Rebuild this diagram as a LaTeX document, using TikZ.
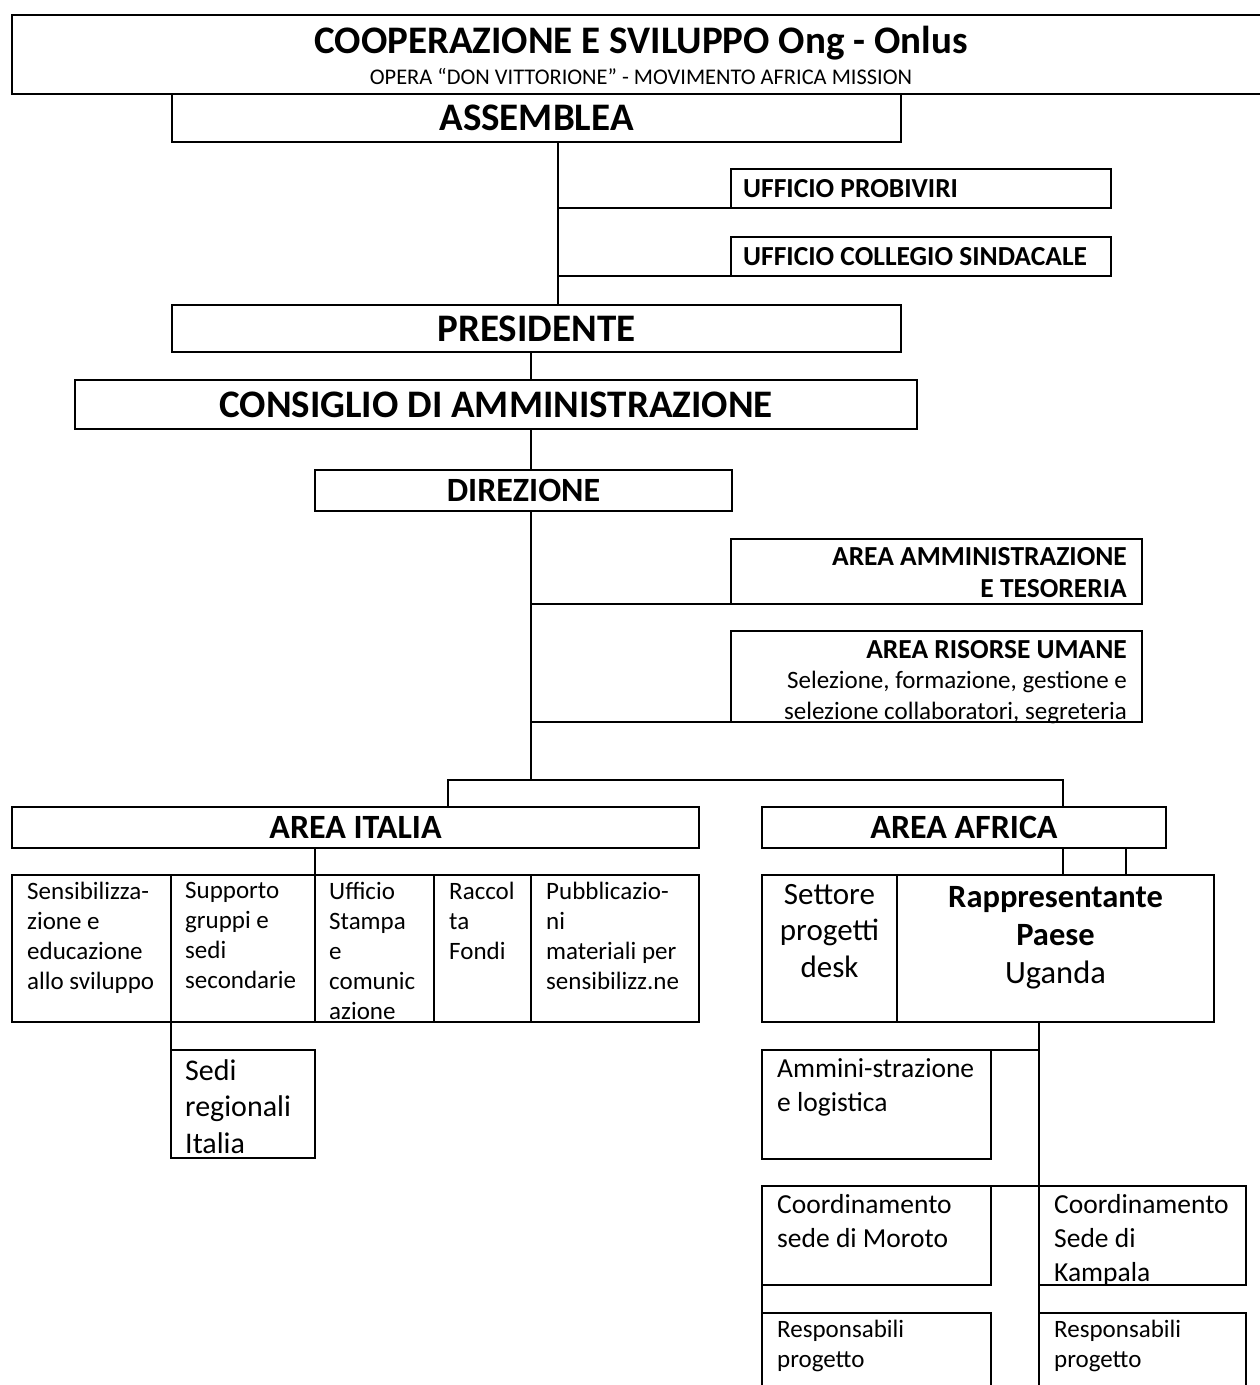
\documentclass[tikz,border=0pt]{standalone}
\usepackage{fontspec}
\setmainfont{Carlito}
\usetikzlibrary{positioning}

\newcommand{\headA}{\fontsize{39}{46}\selectfont\bfseries}
\newcommand{\subfont}{\fontsize{22.4}{26}\selectfont}
\newcommand{\headB}{\fontsize{34}{40}\selectfont\bfseries}
\newcommand{\headC}{\fontsize{27.5}{32}\selectfont\bfseries}
\newcommand{\headD}{\fontsize{27.5}{30.5}\selectfont\bfseries}
\newcommand{\bodyC}{\fontsize{25}{30.5}\selectfont\mdseries}
\newcommand{\cellfont}{\fontsize{25}{30}\selectfont}
\newcommand{\sedifont}{\fontsize{30}{36.5}\selectfont}
\newcommand{\setfont}{\fontsize{31}{36.5}\selectfont}
\newcommand{\rapfont}{\fontsize{32.5}{38}\selectfont}
\newcommand{\midfont}{\fontsize{27.5}{34}\selectfont}

\tikzstyle{box} = [rectangle, draw=black, line width=2.2pt, outer sep=0pt, inner sep=0pt, anchor=north west]
\tikzstyle{boxtext} = [anchor=north west, inner sep=0pt, align=left]
\tikzstyle{boxright} = [anchor=north east, inner sep=0pt, align=right]
\tikzstyle{link} = [line width=2.2pt]

\begin{document}
\begin{tikzpicture}[x=1pt, y=-1pt, node distance=0pt]
\useasboundingbox (0,0) rectangle (1260,1385);
\clip (0,0) rectangle (1260,1385);

% testata
\node (title) [box, minimum width=1258pt, minimum height=79pt] at (12,15) {};
\node (titleA) [anchor=base, inner sep=0pt, font=\headA] at (641,53) {COOPERAZIONE E SVILUPPO Ong - Onlus};
\node (titleB) [anchor=base, inner sep=0pt, font=\subfont] at (641,84) {OPERA “DON VITTORIONE” - MOVIMENTO AFRICA MISSION};

\node (assemblea) [box, minimum width=729pt, minimum height=48pt, font=\headA] at (172,94) {ASSEMBLEA};
\node (probiviri) [box, minimum width=380pt, minimum height=39pt] at (731,169) {};
\node (collegio) [box, minimum width=380pt, minimum height=39pt] at (731,237) {};
\node (probiviriT) [anchor=west, inner sep=0pt, font=\headC] at ([shift={(12,0)}]probiviri.west) {UFFICIO PROBIVIRI};
\node (collegioT) [anchor=west, inner sep=0pt, font=\headC] at ([shift={(12,0)}]collegio.west) {UFFICIO COLLEGIO SINDACALE};
\node (presidente) [box, minimum width=729pt, minimum height=47pt, font=\headA] at (172,305) {PRESIDENTE};
\node (consiglio) [box, minimum width=842pt, minimum height=49pt, font=\headA] at (75,380) {CONSIGLIO DI AMMINISTRAZIONE};
\node (direzione) [box, minimum width=417pt, minimum height=41pt, font=\headB] at (315,470) {DIREZIONE};
\node (amm) [box, minimum width=411pt, minimum height=65pt] at (731,539) {};
\node (risorse) [box, minimum width=411pt, minimum height=91pt] at (731,631) {};
\node (ammT) [boxright, font=\headC] at ([shift={(-15,8)}]amm.north east) {AREA AMMINISTRAZIONE\\E TESORERIA};
\node (risorseT) [boxright, font=\headD] at ([shift={(-15,9)}]risorse.north east) {AREA RISORSE UMANE\\{\bodyC Selezione, formazione, gestione e}\\{\bodyC selezione collaboratori, segreteria}};

\coordinate (spineA) at (558,142);
\draw [link] (spineA) -- (spineA |- presidente.north);
\draw [link] (spineA |- probiviri.south) -- (probiviri.south west);
\draw [link] (spineA |- collegio.south) -- (collegio.south west);

\coordinate (spineB) at (531,352);
\coordinate (split) at (531,780);
\draw [link] (spineB) -- (spineB |- consiglio.north);
\draw [link] (spineB |- consiglio.south) -- (spineB |- direzione.north);
\draw [link] (spineB |- direzione.south) -- (split);
\draw [link] (spineB |- amm.south) -- (amm.south west);
\draw [link] (spineB |- risorse.south) -- (risorse.south west);

% area italia
\node (italia) [box, minimum width=687pt, minimum height=41pt, font=\headB] at (12,807) {AREA ITALIA};
\node (sens) [box, minimum width=159pt, minimum height=147pt] at (12,875) {};
\node (supp) [box, minimum width=144pt, minimum height=147pt, right=of sens] {};
\node (stampa) [box, minimum width=119pt, minimum height=147pt, right=of supp] {};
\node (fondi) [box, minimum width=97pt, minimum height=147pt, right=of stampa] {};
\node (pubbl) [box, minimum width=168pt, minimum height=147pt, right=of fondi] {};
\node (sedi) [box, minimum width=144pt, minimum height=108pt] at (171,1050) {};

\node (sensT) [boxtext, font=\cellfont] at ([shift={(15,7)}]sens.north west) {Sensibilizza-\\zione e\\educazione\\allo sviluppo};
\node (suppT) [boxtext, font=\cellfont] at ([shift={(14,7)}]supp.north west) {Supporto\\gruppi e\\sedi\\secondarie};
\node (stampaT) [boxtext, font=\cellfont] at ([shift={(14,7)}]stampa.north west) {Ufficio\\Stampa\\e\\comunic\\azione};
\node (fondiT) [boxtext, font=\cellfont] at ([shift={(15,7)}]fondi.north west) {Raccol\\ta\\Fondi};
\node (pubblT) [boxtext, font=\cellfont] at ([shift={(15,7)}]pubbl.north west) {Pubblicazio-\\ni\\materiali per\\sensibilizz.ne};
\node (sediT) [boxtext, font=\sedifont] at ([shift={(14,9)}]sedi.north west) {Sedi\\regionali\\Italia};

% area africa
\node (africa) [box, minimum width=404pt, minimum height=41pt, font=\headB] at (762,807) {AREA AFRICA};
\node (settore) [box, minimum width=135pt, minimum height=147pt] at (762,875) {};
\node (rappr) [box, minimum width=317pt, minimum height=147pt, right=of settore] {};
\node (settoreT) [anchor=north, inner sep=0pt, align=center, font=\setfont] at ([shift={(0,9)}]settore.north) {Settore\\progetti\\desk};
\node (rapprT) [anchor=north, inner sep=0pt, align=center, font=\rapfont] at ([shift={(0,11)}]rappr.north) {\textbf{Rappresentante}\\\textbf{Paese}\\Uganda};

\node (ammini) [box, minimum width=229pt, minimum height=109pt] at (762,1050) {};
\node (moroto) [box, minimum width=229pt, minimum height=99pt] at (762,1186) {};
\node (kampala) [box, minimum width=207pt, minimum height=99pt] at (1039,1186) {};
\node (resp1) [box, minimum width=229pt, minimum height=90pt] at (762,1313) {};
\node (resp2) [box, minimum width=207pt, minimum height=90pt] at (1039,1313) {};

\node (amminiT) [boxtext, font=\midfont] at ([shift={(15,8)}]ammini.north west) {Ammini-strazione\\e logistica};
\node (morotoT) [boxtext, font=\midfont] at ([shift={(15,8)}]moroto.north west) {Coordinamento\\sede di Moroto};
\node (kampalaT) [boxtext, font=\midfont] at ([shift={(15,8)}]kampala.north west) {Coordinamento\\Sede di\\Kampala};
\node (resp1T) [boxtext, font=\cellfont] at ([shift={(15,7)}]resp1.north west) {Responsabili\\progetto};
\node (resp2T) [boxtext, font=\cellfont] at ([shift={(15,7)}]resp2.north west) {Responsabili\\progetto};

\coordinate (italiaIn) at (448,807);
\coordinate (africaIn) at (1063,807);
\coordinate (africaIn2) at (1126,848);
\coordinate (spineC) at (1039,1022);
\coordinate (spineEnd) at (1039,1400);
\draw [link] (italiaIn) |- (africaIn |- split) -- (africaIn);
\draw [link] (supp.north east |- italia.south) -- (supp.north east);
\draw [link] (supp.south west) -- (sedi.north west);
\draw [link] (africaIn |- africa.south) -- (africaIn |- rappr.north);
\draw [link] (africaIn2) -- (africaIn2 |- rappr.north);
\draw [link] (spineC) -- (spineEnd);
\draw [link] (ammini.north east) -- (spineC |- ammini.north);
\draw [link] (moroto.north east) -- (kampala.north west);
\draw [link] (moroto.south west) -- (resp1.north west);

\end{tikzpicture}
\end{document}
